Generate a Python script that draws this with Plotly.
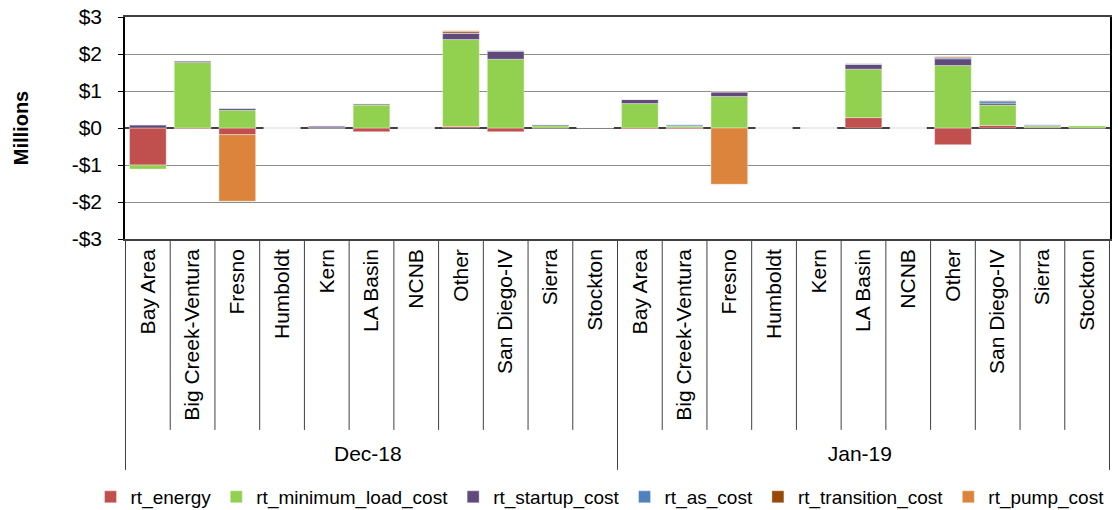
import plotly.graph_objects as go

months = ["Dec-18"] * 11 + ["Jan-19"] * 11
areas = ["Bay Area", "Big Creek-Ventura", "Fresno", "Humboldt", "Kern", "LA Basin",
         "NCNB", "Other", "San Diego-IV", "Sierra", "Stockton"] * 2

rt_energy = [-1.0, -0.02, -0.18, 0, 0, -0.1, 0, 0.04, -0.1, 0, 0.005,
             -0.03, -0.03, 0, 0, 0, 0.28, 0, -0.45, 0.07, 0.02, 0]
rt_minimum_load_cost = [-0.11, 1.77, 0.48, 0, 0.01, 0.62, 0, 2.35, 1.86, 0.06, 0.01,
                        0.66, 0.05, 0.85, 0, 0, 1.31, 0, 1.69, 0.55, 0.04, 0.06]
rt_startup_cost = [0.09, 0.04, 0.05, 0, 0.05, 0.03, 0, 0.17, 0.21, 0.03, 0,
                   0.11, 0.01, 0.12, 0, 0, 0.13, 0, 0.18, 0.05, 0.01, 0.01]
rt_as_cost = [0, 0.01, 0.01, 0, 0, 0.01, 0, 0.01, 0.02, 0.01, 0,
              0.01, 0.04, 0.01, 0, 0, 0.01, 0, 0.03, 0.06, 0.03, 0]
rt_transition_cost = [0, 0, 0, 0, 0, 0, 0, 0.04, 0.01, 0, 0,
                      0, 0, 0.01, 0, 0, 0.01, 0, 0.02, 0.01, 0, 0]
rt_pump_cost = [0, 0, -1.8, 0, 0, 0, 0, 0.02, 0, 0, 0,
                0, 0, -1.52, 0, 0, 0, 0, 0.01, 0, 0, 0]

series = [
    ("rt_energy", rt_energy, "#C0504D"),
    ("rt_minimum_load_cost", rt_minimum_load_cost, "#92D050"),
    ("rt_startup_cost", rt_startup_cost, "#604A7B"),
    ("rt_as_cost", rt_as_cost, "#4F81BD"),
    ("rt_transition_cost", rt_transition_cost, "#984807"),
    ("rt_pump_cost", rt_pump_cost, "#DD843C"),
]

y_ticks = [-3, -2, -1, 0, 1, 2, 3]
y_ticktext = ["-$3", "-$2", "-$1", "$0", "$1", "$2", "$3"]

fig = go.Figure()
for name, vals, color in series:
    fig.add_trace(go.Bar(
        x=[months, areas], y=vals, name=name,
        marker=dict(color=color, line=dict(color="rgba(255,255,255,0.6)", width=0.6)),
    ))

# category separator lines below the axis (decoration, in category index units)
n = len(areas)
for k in range(n + 1):
    is_month_edge = (k == 0 or k == n or months[k - 1] != months[min(k, n - 1)])
    fig.add_shape(type="line", xref="x", yref="paper",
                  x0=k - 0.5, x1=k - 0.5, y0=0,
                  y1=-1.04 if is_month_edge else -0.86,
                  line=dict(color="#404040", width=1))

font = "Liberation Sans, Arial, sans-serif"
fig.update_layout(
    barmode="relative",
    bargap=0.18,
    width=1118, height=510,
    margin=dict(l=125, r=8, t=17, b=271, autoexpand=False),
    plot_bgcolor="white", paper_bgcolor="white",
    font=dict(family=font, color="black"),
    legend=dict(orientation="h", x=-0.035, xanchor="left",
                y=-1.162, yanchor="middle",
                font=dict(size=19), itemwidth=30, traceorder="normal"),
    xaxis=dict(type="multicategory", tickangle=-90, tickfont=dict(size=21),
               automargin=False,
               showline=True, linecolor="#404040", linewidth=1.5, mirror=True,
               ticks="", showdividers=False, showgrid=False),
    yaxis=dict(range=[-3, 3], tickvals=y_ticks, ticktext=y_ticktext,
               automargin=False,
               tickfont=dict(size=21), showline=True, linecolor="black", linewidth=1.5,
               mirror=True, ticks="outside", ticklen=5, tickcolor="black",
               ticklabelstandoff=12,
               showgrid=True, gridcolor="#8c8c8c", gridwidth=1,
               zeroline=True, zerolinecolor="#404040", zerolinewidth=1.5,
               title=dict(text="<b>Millions</b>", font=dict(size=20), standoff=38)),
)

fig.write_html("out.html", config={"displayModeBar": False},
               post_script="document.body.style.margin='0';document.body.style.overflow='hidden';")
